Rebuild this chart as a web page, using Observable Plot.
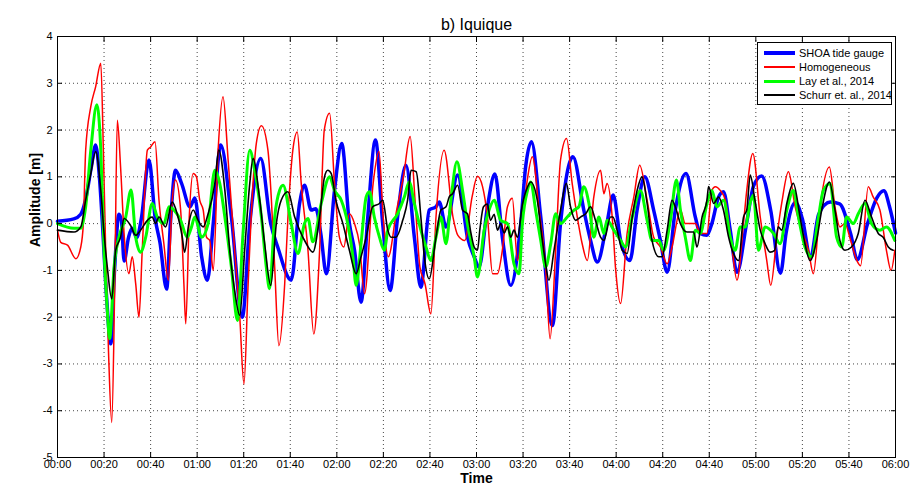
<!DOCTYPE html>
<html>
<head>
<meta charset="utf-8">
<script src="https://cdn.jsdelivr.net/npm/d3@7"></script>
<script src="https://cdn.jsdelivr.net/npm/@observablehq/plot@0.6"></script>
<style>
  html, body { margin: 0; padding: 0; background: #fff; }
  #wrap { position: relative; width: 911px; height: 491px; font-family: "Liberation Sans", Arial, sans-serif; }
  #legend { position: absolute; left: 757px; top: 42px; width: 133px; height: 61px; border: 1px solid #000; background: #fff; font-size: 11px; color: #000; }
  #legend .row { position: absolute; left: 0; height: 14px; line-height: 14px; }
  #legend .sw { position: absolute; left: 6px; width: 31px; top: 50%; }
  #legend .lb { position: absolute; left: 41px; white-space: nowrap; }
</style>
</head>
<body>
<div id="wrap"><div id="legend"></div></div>
<script>
// Series as [minutes after 00:00, amplitude in metres]
const shoa = [[0,0.05],[7,0.1],[10,0.2],[12,0.5],[14.5,1.2],[16.4,1.68],[18,1.0],[19.3,0.0],[21,-1.5],[22.9,-2.57],[24.5,-1.0],[26.4,0.2],[27.5,0.05],[28.6,-0.8],[30.5,-0.3],[32,-0.1],[34,-0.3],[36,0.1],[39.3,1.36],[42,0.1],[44,-0.4],[46.9,-1.4],[48.5,0.0],[50.7,1.14],[53.3,0.86],[56.9,0.36],[59,0.55],[61.9,-0.7],[64.4,-1.21],[66.9,0.0],[70.1,1.68],[74.7,0.14],[79.4,-2.0],[82.6,0.0],[87.3,1.39],[91.6,0.0],[94.6,-0.5],[100.4,-1.21],[104,0.43],[106.1,0.82],[109,0.29],[111,0.32],[113.1,-0.21],[115.5,-1.07],[119,0.71],[122.1,1.71],[125.4,0.0],[127.6,-0.57],[130.4,-1.68],[133.3,0.14],[136.6,1.79],[139.7,0.0],[142.9,-1.43],[146.1,0.14],[149.7,1.25],[153.3,-0.29],[156.1,-1.36],[159.7,0.29],[162.6,0.36],[164,0.46],[166.9,-0.07],[171.9,1.04],[176.1,-0.29],[179,-0.71],[181.1,-0.93],[184.7,0.36],[187.9,1.06],[191.1,-0.29],[194.7,-1.32],[199,0.0],[201.1,1.21],[203.6,1.75],[207.6,0.14],[212.6,-2.18],[216.1,0.0],[221.4,1.43],[226.1,0.29],[229,-0.36],[231.9,-0.82],[236,0.0],[238.7,0.61],[241.9,-0.36],[245.9,-0.79],[249,0.29],[252.3,1.0],[256.1,0.29],[259,-0.36],[261.9,-1.04],[265.4,0.29],[270,1.07],[274,0.14],[276.1,-0.21],[279,-0.25],[281.1,0.0],[284,0.57],[286.1,0.68],[289,-0.14],[291.9,-1.04],[296,0.0],[299,0.8],[302.5,1.02],[306.4,0.28],[310.6,-1.06],[313,-0.2],[317,0.45],[320,0.1],[323.5,-0.72],[327,0.2],[332,0.46],[336,0.42],[340.7,-0.21],[343.6,-0.77],[348,0.0],[352,0.55],[355,0.7],[357.5,0.35],[360,-0.2]];

const homogeneous = [[0,-0.14],[1.4,-0.4],[4.3,-0.46],[7.9,-0.75],[10,-0.5],[11.1,0.0],[12.1,1.57],[14.3,2.5],[16.4,2.93],[18.6,3.43],[19.7,1.57],[20.7,-0.57],[21.9,-2.71],[23.3,-4.25],[24.6,-1.29],[25.7,2.21],[27.1,1.21],[28.6,-0.21],[30.7,-1.07],[32.1,-0.71],[33.6,-1.29],[35,-2.0],[36.4,-0.57],[38.6,1.57],[40,1.64],[41.9,1.75],[43.6,0.5],[45.7,-0.43],[47.6,-1.21],[49.3,0.5],[50.7,0.93],[52.9,0.29],[54.3,-1.29],[55.1,-2.14],[56.6,0.14],[58.3,1.07],[59.7,1.0],[61.1,0.5],[62.6,0.29],[64,-0.29],[65.4,-0.36],[66.9,-1.0],[69,1.57],[71.1,2.71],[73.3,1.36],[76.1,-0.57],[78.3,-2.0],[80.1,-3.43],[81.9,-1.29],[84,0.86],[85.4,1.71],[87.6,2.09],[90.4,1.57],[91.9,0.5],[93.3,-0.93],[95.1,-2.61],[97.6,-1.29],[99,0.14],[101.1,1.57],[103,1.96],[104.7,0.86],[107.6,-0.57],[110.1,-2.36],[112.6,-0.57],[114.6,2.0],[116.9,2.36],[119,0.86],[121.1,-0.29],[123,-0.5],[125.4,0.21],[127.6,0.0],[129.7,-0.43],[131.9,-1.5],[135.6,0.86],[138.1,1.54],[139.9,0.14],[142.1,-0.71],[145.7,0.29],[148.6,1.0],[151.5,1.86],[153.6,0.5],[155.7,-0.93],[157.9,-1.29],[160.4,-1.93],[162.6,0.14],[166.1,1.57],[169.9,0.14],[172,-0.25],[175,-0.36],[178.1,0.57],[180.4,1.01],[182.6,0.79],[184.7,0.14],[186.9,-1.07],[189,-1.07],[191.1,-0.57],[193.3,0.36],[195.4,0.54],[197.6,-0.79],[200.4,0.36],[201.9,0.96],[204,1.43],[206.9,0.29],[209.7,-0.93],[211.6,-2.46],[214,-0.57],[216.1,1.36],[218.7,1.82],[221.1,0.86],[223.3,0.14],[225.4,-0.43],[227.6,-0.79],[230.4,0.57],[233.3,1.14],[234.7,0.64],[236.1,0.86],[238.3,0.14],[239.7,-0.93],[241.9,-1.71],[244.7,-0.21],[247.6,0.57],[250.1,1.25],[253.3,0.5],[256.1,-0.29],[259,-0.5],[261.9,-0.86],[264,-0.5],[267.6,0.29],[269.7,0.0],[274,0.0],[276.1,-0.21],[279,-0.21],[281.1,0.71],[282.6,0.79],[284.7,0.71],[286.9,0.5],[289.7,-0.5],[291.9,-1.21],[294.7,0.0],[296.1,0.71],[298.7,1.5],[301.9,0.14],[304.7,-0.79],[306.4,-1.32],[309,-0.29],[311.1,0.43],[314,1.11],[316.9,0.36],[319.7,-0.14],[322.6,-0.57],[324.7,-1.07],[327.6,0.36],[331.6,1.21],[334,0.36],[336.1,-0.07],[338.3,0.0],[340.4,-0.3],[343.5,-0.8],[345,-0.9],[348.3,0.79],[350.4,0.57],[353.3,0.29],[356.1,-0.57],[358.1,-1.0],[359.7,-0.57]];

const lay2014 = [[0,0.0],[7.1,-0.1],[10,-0.1],[12.1,0.36],[14.3,1.57],[16.9,2.54],[18.6,1.57],[20,-0.57],[21.4,-1.86],[22.4,-2.46],[24.3,-0.93],[26.4,-0.29],[29.3,0.14],[31.6,0.72],[33.6,-0.29],[35.7,-0.61],[37.9,-0.29],[40.7,0.43],[42.9,0.14],[45.7,0.0],[47.9,0.36],[50,0.29],[52.9,0.07],[55.7,-0.29],[57.4,-0.1],[59,0.14],[61.9,-0.29],[64.7,0.0],[67.6,1.14],[69.7,0.86],[71.9,0.14],[74.7,-0.93],[77.3,-2.07],[79.7,-0.21],[82.6,1.57],[84.7,1.14],[87.6,0.14],[89.7,-0.93],[91.1,-1.39],[93.3,0.14],[95.4,0.71],[96.9,0.82],[100.4,0.0],[103.3,-0.64],[106.1,0.0],[107.6,0.11],[109.7,-0.39],[113.3,0.43],[116.9,1.0],[119,0.71],[121.9,0.5],[124.7,0.0],[126.9,-0.71],[128.3,-1.32],[130.4,-0.43],[132.6,0.57],[134,0.68],[136.1,0.14],[138.3,-0.29],[140.4,-0.57],[141.9,-0.14],[146.1,0.21],[149,0.57],[151.1,0.89],[153.3,0.43],[156.1,-0.14],[158.3,-0.5],[160.4,-0.79],[162.6,-0.29],[164.7,0.14],[166.9,-0.43],[169,0.5],[171.6,1.32],[174,0.71],[176.1,0.0],[179,-0.71],[180.4,-1.14],[183.3,-0.14],[185.4,0.29],[187.6,0.5],[190.4,0.07],[193.3,0.0],[196.1,-0.86],[198.3,-1.07],[199.7,0.0],[201.9,0.71],[203.3,0.89],[205.4,0.29],[207.6,-0.36],[209.7,-0.93],[211.9,-0.43],[214,0.21],[216.1,0.0],[219,0.14],[221.9,0.29],[224,0.36],[226.1,0.79],[228.3,0.43],[230.4,-0.29],[232.6,0.14],[234.7,-0.21],[236.1,0.07],[239,-0.14],[241.9,-0.36],[244,-0.5],[246.9,0.14],[250.4,0.71],[253.3,0.07],[255.4,-0.36],[258.3,-0.36],[260.4,-0.57],[263.3,0.07],[265.9,0.93],[267.6,0.29],[269.7,-0.29],[271.9,-0.79],[274,-0.14],[276.1,-0.21],[279,0.43],[281.1,0.71],[283.3,0.36],[286.1,0.5],[289,-0.29],[291.1,-0.57],[293.3,-0.07],[295.4,-0.07],[297.6,0.45],[299,0.61],[301.1,-0.57],[304,-0.07],[307.6,-0.21],[310.4,-0.43],[313.3,0.29],[316.1,0.71],[318.3,0.14],[321.1,-0.5],[324,-0.71],[326.9,0.14],[329,0.71],[331.9,0.86],[334.7,-0.29],[336.9,-0.5],[339,0.14],[341.9,0.0],[344,0.21],[346.9,0.43],[349.7,0.0],[353.3,-0.14],[356.1,-0.07],[359.7,-0.36]];

const schurr2014 = [[0,-0.14],[7.1,-0.18],[10,-0.07],[12.1,0.5],[14.3,1.07],[16.4,1.54],[18.6,0.71],[20,-0.21],[21.4,-0.93],[23.3,-1.61],[25,-0.57],[27.1,-0.29],[28.6,0.11],[31.4,-0.04],[33.6,-0.25],[35.7,-0.14],[38.6,0.07],[40.7,0.14],[42.1,0.0],[43.6,0.14],[46.4,-0.07],[49.3,0.46],[51.4,0.21],[53.6,-0.29],[54.6,-0.61],[56.4,0.0],[58.3,0.29],[60.4,0.07],[62.6,-0.07],[64.7,0.21],[67.6,0.86],[69.3,1.57],[71.9,0.71],[74,-0.57],[76.1,-1.43],[78.3,-1.96],[80.4,-0.57],[82.6,0.86],[84,1.39],[86.9,0.5],[89,-0.43],[91.6,-1.32],[94,0.0],[96.1,0.5],[99,0.68],[101.9,0.14],[104,-0.14],[106.9,-0.43],[109.7,-0.61],[112.6,0.14],[114.7,1.0],[116.1,1.14],[117.6,1.07],[119.6,0.5],[122.6,0.0],[125.4,-0.57],[128.3,-1.07],[130.4,-0.71],[132.6,-0.29],[135.4,0.36],[138.3,0.43],[139.7,0.5],[141.9,-0.14],[143.3,-0.29],[145.4,-0.29],[148.3,0.07],[150.4,0.5],[151.9,1.14],[154.1,1.11],[156.1,0.14],[157.6,-0.71],[159.7,-1.18],[162.6,-0.29],[164.7,0.29],[166.9,0.36],[168.3,0.57],[169.7,0.64],[171.9,0.82],[174,0.29],[176.1,0.21],[177.6,-0.2],[179,-0.5],[180.4,-0.57],[181.5,-0.1],[183,0.36],[184.7,0.42],[186,0.07],[187.6,0.2],[189,-0.14],[190.4,0.0],[191.9,-0.2],[193.3,-0.07],[194.7,-0.29],[196.1,-0.14],[197.6,-0.29],[199.7,0.4],[201.9,0.78],[203.3,0.89],[206.1,0.5],[208.1,-0.29],[209.7,-0.86],[211.1,-1.21],[213.3,-0.57],[216.1,0.29],[218.6,0.86],[220.4,0.36],[222.6,0.07],[224.7,0.14],[226.9,0.21],[229,0.36],[231.1,0.07],[233.3,-0.29],[234.7,-0.36],[237.6,0.14],[238.6,0.14],[240.4,-0.14],[242.6,-0.57],[244.7,-0.64],[246.9,0.14],[249,0.71],[251.1,1.0],[253.3,0.43],[255.4,-0.36],[258.3,-0.71],[259.7,-0.71],[261.9,-0.14],[264,0.5],[265.4,0.36],[267.6,0.0],[270.4,-0.18],[273.3,-0.18],[274.7,-0.5],[276.9,0.14],[279,0.5],[279.7,0.79],[281.9,0.43],[284,0.57],[286.1,0.29],[288.3,-0.29],[290.4,-0.64],[292.6,-0.79],[294.7,0.14],[296.1,0.29],[297.6,1.04],[299.6,0.5],[301.9,-0.14],[304,-0.43],[306.1,-0.61],[308.1,-0.57],[309.6,-0.07],[311.1,-0.14],[313.3,0.43],[316.1,0.86],[319,0.14],[321.1,-0.43],[323.3,-0.79],[326.1,-0.36],[328.3,0.29],[331.6,0.89],[334,0.29],[336.1,-0.36],[338.3,-0.57],[341.1,-0.5],[344,-0.21],[346.9,0.5],[349.7,0.14],[352.6,-0.21],[354.7,-0.29],[356.9,-0.5],[359,-0.57]];

const seriesNames = ["SHOA tide gauge", "Homogeneous", "Lay et al., 2014", "Schurr et. al., 2014"];
const seriesColors = ["#0000ff", "#ff0000", "#00ff00", "#000000"];
const seriesWidths = [3.5, 1.5, 3, 1.6];
const timeTicks = d3.range(0, 361, 20);
const ampTicks = d3.range(-5, 5, 1);

const fmtTime = m => `${String(Math.floor(m / 60)).padStart(2, "0")}:${String(m % 60).padStart(2, "0")}`;

const seriesData = [shoa, homogeneous, lay2014, schurr2014];
const lineMarks = seriesData.map((s, i) => Plot.line(s, {
  x: d => d[0], y: d => d[1],
  stroke: seriesColors[i], strokeWidth: seriesWidths[i],
  curve: "monotone-x", strokeLinejoin: "round"
}));

const font = "Liberation Sans, Arial, sans-serif";

const chart = Plot.plot({
  width: 911,
  height: 491,
  marginTop: 36,
  marginRight: 16,
  marginBottom: 34,
  marginLeft: 57,
  style: { fontFamily: font, fontSize: "11px", color: "#000", background: "#fff" },
  x: { domain: [0, 360] },
  y: { domain: [-5, 4] },
  marks: [
    Plot.gridX(timeTicks, { stroke: "#333", strokeOpacity: 0.9, strokeDasharray: "1,3" }),
    Plot.gridY(ampTicks, { stroke: "#333", strokeOpacity: 0.9, strokeDasharray: "1,3" }),
    ...lineMarks,
    Plot.frame({ stroke: "#000" }),
    Plot.axisX(timeTicks, { anchor: "bottom", tickSize: -5, tickPadding: 8, tickFormat: fmtTime, label: null, fontSize: 11 }),
    Plot.axisX(timeTicks, { anchor: "top", tickSize: -5, tickFormat: () => "", label: null }),
    Plot.axisY(ampTicks, { anchor: "left", tickSize: -5, tickPadding: 10, tickFormat: d => String(d), label: null, fontSize: 11 }),
    Plot.axisY(ampTicks, { anchor: "right", tickSize: -5, tickFormat: () => "", label: null }),
    Plot.text(["b) Iquique"], { frameAnchor: "top", dy: -18, fontSize: 16 }),
    Plot.text(["Time"], { frameAnchor: "bottom", dy: 25, fontSize: 14, fontWeight: "bold" }),
    Plot.text(["Amplitude [m]"], { frameAnchor: "left", dx: -22, rotate: -90, fontSize: 14, fontWeight: "bold" })
  ]
});

const wrap = document.getElementById("wrap");
wrap.insertBefore(chart, wrap.firstChild);

// Legend box inside the upper-right corner of the plot
const legend = document.getElementById("legend");
const rowTops = [3, 17, 31, 45];
seriesNames.forEach((name, i) => {
  const row = document.createElement("div");
  row.className = "row";
  row.style.top = rowTops[i] + "px";
  row.style.width = "133px";
  const sw = document.createElement("div");
  sw.className = "sw";
  sw.style.height = seriesWidths[i] + "px";
  sw.style.marginTop = (-seriesWidths[i] / 2) + "px";
  sw.style.background = seriesColors[i];
  const lb = document.createElement("div");
  lb.className = "lb";
  lb.textContent = name;
  row.appendChild(sw);
  row.appendChild(lb);
  legend.appendChild(row);
});
</script>
</body>
</html>
